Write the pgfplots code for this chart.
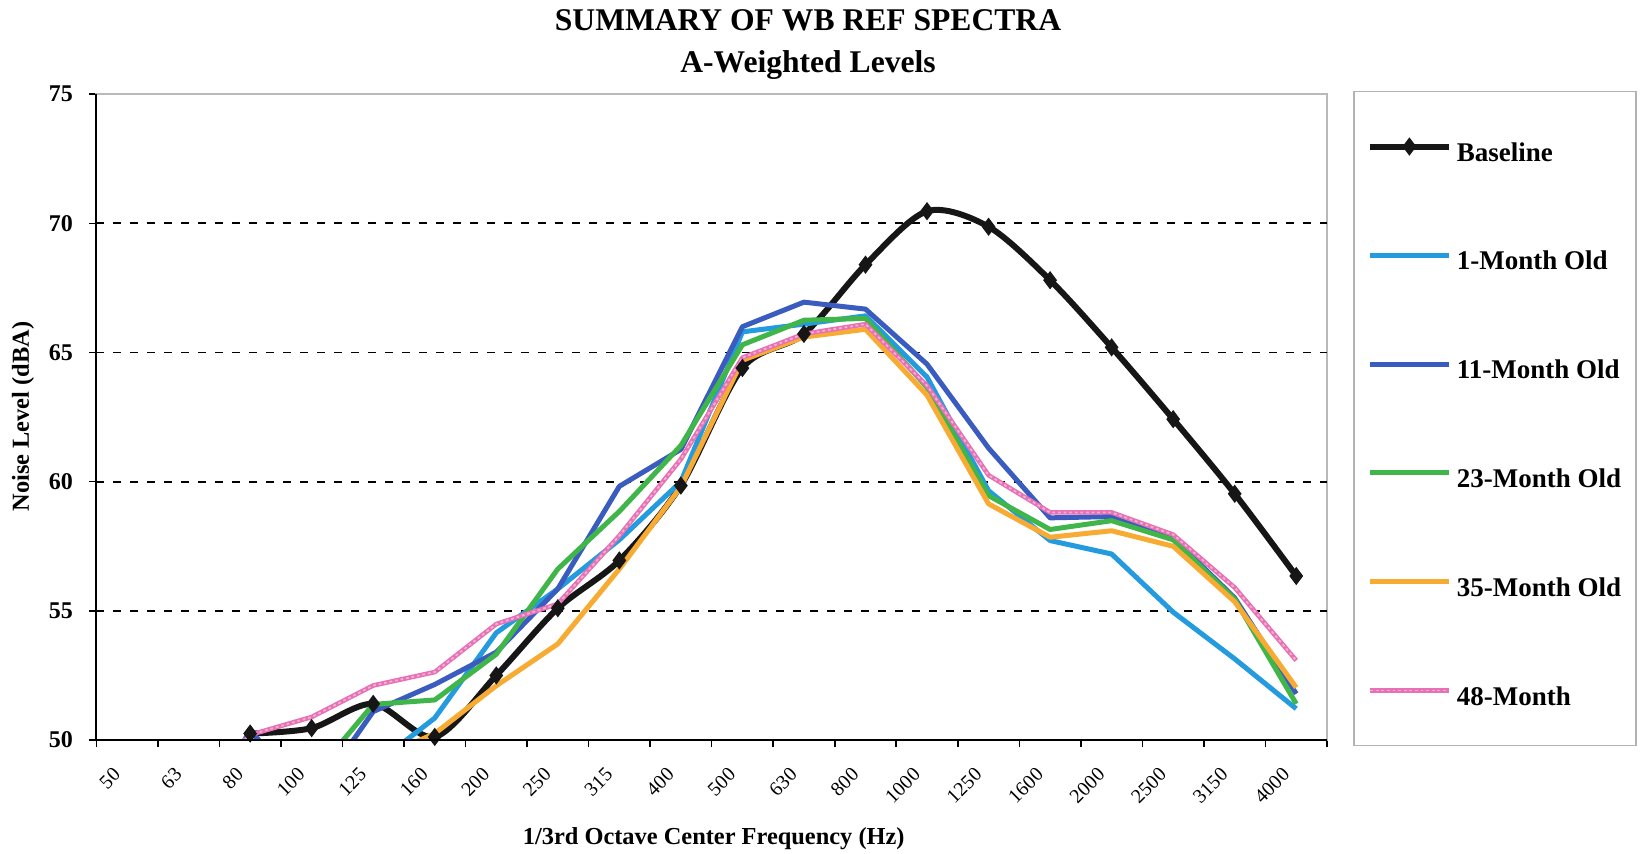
\documentclass[border=0pt]{standalone}
\usepackage{fontspec}
\setmainfont{Liberation Serif}
\usepackage{pgfplots}
\usepackage{pgfplotstable}
\pgfplotsset{compat=1.18}

\definecolor{baseblack}{RGB}{22,22,22}
\definecolor{oneblue}{RGB}{35,155,222}
\definecolor{elevenblue}{RGB}{58,92,190}
\definecolor{tgreen}{RGB}{64,182,74}
\definecolor{torange}{RGB}{248,171,51}
\definecolor{fpink}{RGB}{232,112,180}

% A-weighted 1/3-octave levels (dBA); idx = band number, 50 Hz ... 4000 Hz
\pgfplotstableread{
idx base  m1    m11   m23   m35   m48
0   nan   44.00 44.00 44.00 44.00 44.00
1   nan   45.50 46.30 45.50 45.00 47.70
2   50.25 47.00 50.37 47.00 46.50 50.20
3   50.46 48.00 47.70 48.54 48.00 50.89
4   51.40 49.00 51.10 51.38 49.20 52.11
5   50.12 50.85 52.15 51.55 50.25 52.63
6   52.50 54.15 53.40 53.32 52.10 54.49
7   55.10 55.85 55.85 56.62 53.72 55.27
8   56.95 57.75 59.82 58.85 56.62 57.91
9   59.85 60.00 61.25 61.40 59.80 60.87
10  64.40 65.80 66.00 65.30 64.70 64.80
11  65.72 66.10 66.95 66.25 65.60 65.72
12  68.40 66.42 66.68 66.32 65.90 66.10
13  70.47 64.05 64.55 63.65 63.35 63.72
14  69.87 59.65 61.30 59.46 59.14 60.25
15  67.80 57.72 58.60 58.15 57.85 58.81
16  65.20 57.20 58.65 58.49 58.10 58.81
17  62.42 54.95 57.82 57.75 57.50 57.95
18  59.53 53.14 55.50 55.45 55.35 55.90
19  56.35 51.21 51.79 51.40 52.03 53.08
}\spectra

\begin{document}
\begin{tikzpicture}
\path[use as bounding box] (-48.15pt,-56.5pt) rectangle (772.35pt,370pt);

\begin{axis}[
  scale only axis,
  width=615.35pt, height=322.9pt,
  xmin=-0.5, xmax=19.5, ymin=50, ymax=75,
  xtick={0,...,19},
  xticklabels={50,63,80,100,125,160,200,250,315,400,500,630,800,1000,1250,1600,2000,2500,3150,4000},
  minor xtick={-0.5,0.5,...,19.5},
  ytick={50,55,...,75},
  extra y ticks={55,60,65,70},
  extra y tick labels={},
  extra y tick style={ymajorgrids=true, major tick length=0pt},
  grid style={black, line width=0.9pt, dash pattern=on 4pt off 4.5pt},
  xtick pos=bottom, ytick pos=left,
  tick align=outside,
  major tick length=3.5pt, minor tick length=3.5pt,
  major x tick style={draw=none},
  every tick/.style={black, line width=0.8pt},
  axis line style={gray!55, line width=0.9pt},
  /pgf/number format/assume math mode=true,
  yticklabel style={font=\bfseries\fontsize{12}{12}\selectfont, inner sep=0pt, anchor=east, xshift=-8pt},
  xticklabel style={font=\fontsize{10}{10}\selectfont, inner sep=0pt, xshift=-5pt, yshift=-12pt, rotate=45, anchor=east},
  legend cell align=left,
  legend image code/.code={\draw[mark repeat=2,mark phase=2,#1] plot coordinates {(0pt,0pt) (19.6pt,0pt) (39.2pt,0pt)};},
  legend style={
    at={(1.1365,0.4978)}, anchor=center,
    draw=gray!60, line width=0.8pt, fill=white,
    inner xsep=6.5pt, inner ysep=18.25pt,
    row sep=35.9pt,
    font=\bfseries\fontsize{13.5}{13.5}\selectfont,
    nodes={inner sep=0pt, text height=16.5pt, text depth=2pt},
    /tikz/every odd column/.append style={column sep=2.6pt}
  },
  after end axis/.code={
    \draw[black, line width=0.9pt] (rel axis cs:0,1) -- (rel axis cs:0,0) -- (rel axis cs:1,0);
  },
]
\addplot[baseblack, line width=3pt, smooth, tension=0.5,
  mark=diamond*, mark size=2.1pt, mark options={solid, fill=baseblack}]
  table[x=idx, y=base] {\spectra};
\addlegendentry{\makebox[83pt][l]{Baseline}}

\addplot[oneblue, line width=2.5pt, line join=round]
  table[x=idx, y=m1] {\spectra};
\addlegendentry{\makebox[83pt][l]{1-Month Old}}

\addplot[elevenblue, line width=2.5pt, line join=round]
  table[x=idx, y=m11] {\spectra};
\addlegendentry{\makebox[83pt][l]{11-Month Old}}

\addplot[tgreen, line width=2.5pt, line join=round]
  table[x=idx, y=m23] {\spectra};
\addlegendentry{\makebox[83pt][l]{23-Month Old}}

\addplot[torange, line width=2.5pt, line join=round]
  table[x=idx, y=m35] {\spectra};
\addlegendentry{\makebox[83pt][l]{35-Month Old}}

\addplot[fpink, line width=2.3pt, line join=round,
  legend image code/.code={
    \draw[fpink, line width=2.3pt] (0pt,0pt) -- (39.2pt,0pt);
    \draw[white, opacity=0.45, line width=0.9pt, dash pattern=on 1.4pt off 1.4pt] (0pt,0pt) -- (39.2pt,0pt);}]
  table[x=idx, y=m48] {\spectra};
\addlegendentry{\makebox[83pt][l]{48-Month}}

% light stripes along the 48-month line
\addplot[forget plot, white, opacity=0.45, line width=0.9pt, dash pattern=on 1.4pt off 1.4pt]
  table[x=idx, y=m48] {\spectra};
\end{axis}

\node[font=\bfseries\fontsize{15.8}{18}\selectfont, anchor=base] at (355.85pt,354.8pt) {SUMMARY OF WB REF SPECTRA};
\node[font=\bfseries\fontsize{15.8}{18}\selectfont, anchor=base] at (355.85pt,333.9pt) {A-Weighted Levels};
\node[font=\bfseries\fontsize{12.2}{14}\selectfont, anchor=base] at (308.7pt,-52.3pt) {1/3rd Octave Center Frequency (Hz)};
\node[font=\bfseries\fontsize{12.2}{14}\selectfont, rotate=90, anchor=center] at (-36.65pt,161.7pt) {Noise Level (dBA)};
\end{tikzpicture}
\end{document}
